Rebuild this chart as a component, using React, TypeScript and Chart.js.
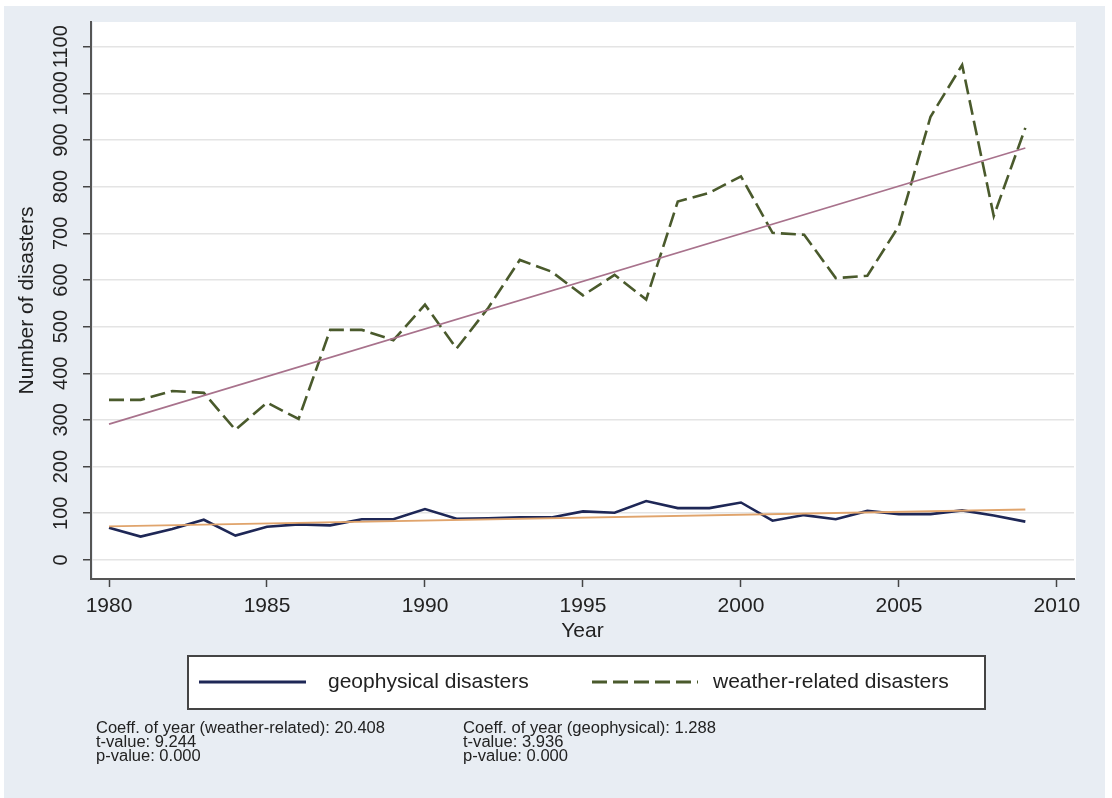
import React, { useEffect, useRef } from "react";
import { Chart, registerables } from "chart.js";

Chart.register(...registerables);

// ---- data ----
const years = [
  1980, 1981, 1982, 1983, 1984, 1985, 1986, 1987, 1988, 1989,
  1990, 1991, 1992, 1993, 1994, 1995, 1996, 1997, 1998, 1999,
  2000, 2001, 2002, 2003, 2004, 2005, 2006, 2007, 2008, 2009,
];
const weatherRelated = [
  343, 343, 362, 358, 279, 337, 302, 493, 493, 471,
  547, 453, 540, 643, 618, 567, 611, 558, 768, 787,
  822, 701, 697, 604, 609, 716, 950, 1061, 737, 926,
];
const geophysical = [
  69, 50, 66, 86, 52, 71, 76, 74, 87, 87,
  109, 88, 89, 91, 91, 104, 101, 126, 111, 111,
  123, 84, 96, 87, 105, 98, 98, 106, 95, 82,
];
const fitYears = [1980, 2009];
const weatherFit = [291, 883];
const geophysicalFit = [72, 108];

const xTickValues = [1980, 1985, 1990, 1995, 2000, 2005, 2010];
const yTickValues = [0, 100, 200, 300, 400, 500, 600, 700, 800, 900, 1000, 1100];

const xTitle = "Year";
const yTitle = "Number of disasters";
const legendLabels = ["geophysical disasters", "weather-related disasters"];
const statsWeather = [
  "Coeff. of year (weather-related): 20.408",
  "t-value: 9.244",
  "p-value: 0.000",
];
const statsGeophysical = [
  "Coeff. of year (geophysical): 1.288",
  "t-value: 3.936",
  "p-value: 0.000",
];

// ---- styles ----
const FONT = "'Liberation Sans', Arial, Helvetica, sans-serif";
const GEO_COLOR = "#1e2756";
const WEATHER_COLOR = "#4a5a2c";
const WEATHER_FIT_COLOR = "#a8728c";
const GEO_FIT_COLOR = "#e0a46c";
const REGION_BG = "#e8edf3";
const TEXT_COLOR = "#222222";
const WEATHER_DASH = [15, 6];

const toPoints = (xs: number[], ys: number[]) => xs.map((x, i) => ({ x, y: ys[i] }));

const backgroundPlugin = {
  id: "stataBackground",
  beforeDraw(chart: any) {
    const { ctx, width, height, chartArea } = chart;
    ctx.save();
    ctx.fillStyle = "#ffffff";
    ctx.fillRect(0, 0, width, height);
    ctx.fillStyle = REGION_BG;
    ctx.fillRect(4, 6, 1101, height - 6);
    ctx.fillStyle = "#ffffff";
    ctx.fillRect(chartArea.left + 2, chartArea.top, chartArea.right - chartArea.left, chartArea.bottom - chartArea.top);
    ctx.restore();
  },
};

const legendPlugin = {
  id: "stataLegend",
  afterDraw(chart: any) {
    const { ctx } = chart;
    ctx.save();
    // legend box
    ctx.fillStyle = "#ffffff";
    ctx.fillRect(188, 656, 797, 53);
    ctx.strokeStyle = "#444444";
    ctx.lineWidth = 2;
    ctx.strokeRect(188, 656, 797, 53);

    const ly = 682;
    ctx.lineWidth = 3;
    ctx.strokeStyle = GEO_COLOR;
    ctx.setLineDash([]);
    ctx.beginPath();
    ctx.moveTo(199, ly);
    ctx.lineTo(306, ly);
    ctx.stroke();

    ctx.strokeStyle = WEATHER_COLOR;
    ctx.setLineDash(WEATHER_DASH);
    ctx.beginPath();
    ctx.moveTo(592, ly);
    ctx.lineTo(698, ly);
    ctx.stroke();
    ctx.setLineDash([]);

    ctx.fillStyle = TEXT_COLOR;
    ctx.font = `21px ${FONT}`;
    ctx.textBaseline = "middle";
    ctx.textAlign = "left";
    ctx.fillText(legendLabels[0], 328, ly);
    ctx.fillText(legendLabels[1], 713, ly);

    // statistics notes
    ctx.font = `16px ${FONT}`;
    const drawBlock = (lines: string[], x: number, targetWidth: number) => {
      const w = ctx.measureText(lines[0]).width;
      const sx = targetWidth / w;
      lines.forEach((line, i) => {
        ctx.save();
        ctx.translate(x, 729 + i * 14);
        ctx.scale(sx, 1);
        ctx.fillText(line, 0, 0);
        ctx.restore();
      });
    };
    drawBlock(statsWeather, 96, 289);
    drawBlock(statsGeophysical, 463, 253);
    ctx.restore();
  },
};

export default function App() {
  const canvasRef = useRef<HTMLCanvasElement>(null);

  useEffect(() => {
    document.body.style.margin = "0";
    const canvas = canvasRef.current;
    if (!canvas) return;

    const chart = new Chart(canvas, {
      type: "line",
      data: {
        datasets: [
          {
            label: "weather fit",
            data: toPoints(fitYears, weatherFit),
            borderColor: WEATHER_FIT_COLOR,
            borderWidth: 1.6,
            pointRadius: 0,
            tension: 0,
          },
          {
            label: "geophysical fit",
            data: toPoints(fitYears, geophysicalFit),
            borderColor: GEO_FIT_COLOR,
            borderWidth: 1.8,
            pointRadius: 0,
            tension: 0,
          },
          {
            label: legendLabels[0],
            data: toPoints(years, geophysical),
            borderColor: GEO_COLOR,
            borderWidth: 2.6,
            pointRadius: 0,
            tension: 0,
          },
          {
            label: legendLabels[1],
            data: toPoints(years, weatherRelated),
            borderColor: WEATHER_COLOR,
            borderWidth: 2.6,
            borderDash: WEATHER_DASH,
            pointRadius: 0,
            tension: 0,
          },
        ],
      },
      options: {
        animation: false,
        responsive: true,
        maintainAspectRatio: false,
        devicePixelRatio: 1,
        layout: { padding: { top: 22, right: 38, bottom: 154, left: 0 } },
        plugins: {
          legend: { display: false },
          tooltip: { enabled: false },
        },
        events: [],
        scales: {
          x: {
            type: "linear",
            min: 1979.43,
            max: 2010.54,
            afterBuildTicks: (s: any) => {
              s.ticks = xTickValues.map((v) => ({ value: v }));
            },
            afterFit: (s: any) => {
              s.height = 65;
            },
            ticks: {
              autoSkip: false,
              maxRotation: 0,
              minRotation: 0,
              padding: 7,
              color: TEXT_COLOR,
              font: { family: FONT, size: 21 },
              callback: (v: any) => String(v),
            },
            grid: {
              drawOnChartArea: false,
              drawTicks: true,
              tickLength: 8,
              tickColor: "#444444",
              tickWidth: 1.5,
            },
            border: { color: "#555555", width: 2 },
            title: {
              display: true,
              text: xTitle,
              color: TEXT_COLOR,
              font: { family: FONT, size: 21 },
              padding: 0,
            },
          },
          y: {
            type: "linear",
            min: -41,
            max: 1153,
            afterBuildTicks: (s: any) => {
              s.ticks = yTickValues.map((v) => ({ value: v }));
            },
            afterFit: (s: any) => {
              s.width = 91;
            },
            ticks: {
              autoSkip: false,
              minRotation: 90,
              maxRotation: 90,
              crossAlign: "center",
              padding: -1,
              color: TEXT_COLOR,
              font: { family: FONT, size: 20 },
              callback: (v: any) => String(v),
            },
            grid: {
              color: "#e4e4e4",
              lineWidth: 1.5,
              drawTicks: true,
              tickLength: 8,
              tickColor: "#444444",
              tickWidth: 1.5,
            },
            border: { color: "#555555", width: 2 },
            title: {
              display: true,
              text: yTitle,
              color: TEXT_COLOR,
              font: { family: FONT, size: 21 },
              padding: { top: 15, bottom: 0 },
            },
          },
        },
      },
      plugins: [backgroundPlugin, legendPlugin],
    } as any);

    return () => chart.destroy();
  }, []);

  return (
    <div style={{ width: 1112, height: 798, position: "relative" }}>
      <canvas ref={canvasRef} />
    </div>
  );
}
